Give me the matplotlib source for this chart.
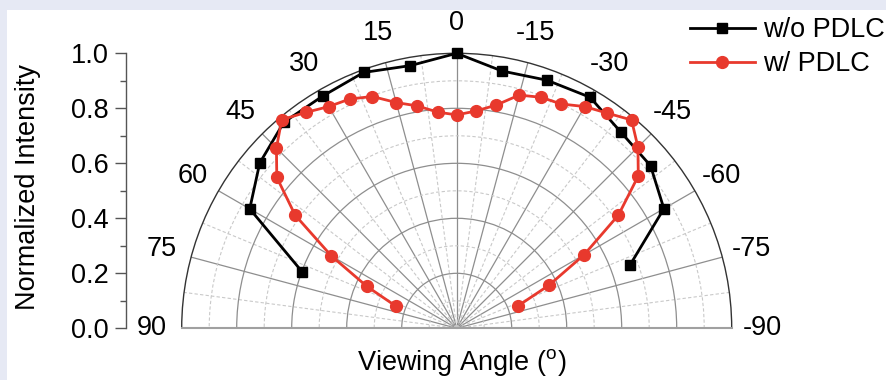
import numpy as np
import matplotlib
matplotlib.use("Agg")
import matplotlib.pyplot as plt
from matplotlib.patches import Rectangle

plt.rcParams['font.family'] = ['Liberation Sans', 'DejaVu Sans']
plt.rcParams['mathtext.fontset'] = 'custom'
plt.rcParams['mathtext.rm'] = 'Liberation Sans'

# ---- data ----
angles_wo = [-70, -60, -50, -40, -30, -20, -10, 0, 10, 20, 30, 40, 50, 60, 70]
intensity_wo = [0.67, 0.87, 0.92, 0.93, 0.97, 0.96, 0.95, 1.0,
                0.97, 0.99, 0.975, 0.978, 0.935, 0.869, 0.597]

angles_w = [-70, -65, -60, -55, -50, -45, -40, -35, -30, -25, -20, -15, -10, -5, 0,
            5, 10, 15, 20, 25, 30, 35, 40, 45, 50, 55, 60, 65, 70]
intensity_w = [0.236, 0.37, 0.535, 0.718, 0.862, 0.932, 0.989, 0.955, 0.931, 0.90,
               0.894, 0.878, 0.824, 0.793, 0.776, 0.789, 0.821, 0.85, 0.897, 0.92,
               0.931, 0.958, 0.99, 0.927, 0.854, 0.717, 0.526, 0.36, 0.235]

theta_major = [-90, -75, -60, -45, -30, -15, 0, 15, 30, 45, 60, 75, 90]
theta_labels = ['-90', '-75', '-60', '-45', '-30', '-15', '0', '15', '30', '45', '60', '75', '90']
theta_minor = [-82.5, -67.5, -52.5, -37.5, -22.5, -7.5, 7.5, 22.5, 37.5, 52.5, 67.5, 82.5]
r_major = [0.2, 0.4, 0.6, 0.8]
r_minor = [0.1, 0.3, 0.5, 0.7, 0.9]
y_ticks = [0.0, 0.2, 0.4, 0.6, 0.8, 1.0]
y_labels = ['0.0', '0.2', '0.4', '0.6', '0.8', '1.0']
y_minor = [0.1, 0.3, 0.5, 0.7, 0.9]

series_names = ['w/o PDLC', 'w/ PDLC']
red = '#e8392d'
FS = 19.5

W, H = 887, 380
fig = plt.figure(figsize=(W / 100, H / 100), dpi=100)
fig.patch.set_facecolor('#e6e9f4')
fig.add_artist(Rectangle((7 / W, 0), 1 - 7 / W, (H - 10) / H, transform=fig.transFigure,
                         facecolor='white', edgecolor='none', zorder=-10))

# polar axes: half-disk center (456.7, 328.3) px, R = 275 px
# polar axes keep a square box; the half disk sits centred in it
cx, cy, R = 456.7, 328.3, 275.0
S = 2 * R
box_cy = cy - R / 2          # from top
left = (cx - R) / W
bottom = (H - (box_cy + S / 2)) / H
ax = fig.add_axes([left, bottom, S / W, S / H], projection='polar')
ax.set_theta_zero_location('N')
ax.set_theta_direction(1)
ax.set_thetamin(-90)
ax.set_thetamax(90)
ax.set_ylim(0, 1)
ax.set_facecolor('white')
ax.set_axisbelow(True)

ax.set_xticks(np.deg2rad(theta_major))
ax.set_xticklabels([''] * len(theta_major))
ax.set_xticks(np.deg2rad(theta_minor), minor=True)
ax.set_yticks(r_major)
ax.set_yticklabels([])
ax.set_yticks(r_minor, minor=True)
ax.tick_params(axis='y', which='both', length=0)
ax.tick_params(axis='x', which='major', direction='in', length=7, width=1.0, color='#333333')
ax.tick_params(axis='x', which='minor', direction='in', length=4, width=1.0, color='#333333')

ax.xaxis.grid(True, which='major', color='#8e8e8e', lw=0.9, ls='-')
ax.xaxis.grid(True, which='minor', color='#c9c9c9', lw=0.8, ls=(0, (3, 2)))
ax.yaxis.grid(True, which='major', color='#8e8e8e', lw=0.9, ls='-')
ax.yaxis.grid(True, which='minor', color='#c9c9c9', lw=0.8, ls=(0, (3, 2)))

ax.spines['polar'].set_color('#333333')
ax.spines['polar'].set_linewidth(1.0)
for s in ('start', 'end'):
    ax.spines[s].set_color('#a0a0a0')
    ax.spines[s].set_linewidth(1.5)

for t, lab in zip(theta_major, theta_labels):
    ax.text(np.deg2rad(t), 1.11, lab, ha='center', va='center', fontsize=FS,
            clip_on=False)

l1, = ax.plot(np.deg2rad(angles_wo), intensity_wo, color='black', lw=2.0,
              marker='s', ms=7.5, clip_on=False, zorder=3)
l2, = ax.plot(np.deg2rad(angles_w), intensity_w, color=red, lw=2.0,
              marker='o', ms=8.5, clip_on=False, zorder=4)

# left cartesian intensity axis
axy = fig.add_axes([125.7 / W, (H - cy) / H, 0.01, R / H])
axy.set_ylim(0, 1)
axy.set_xlim(0, 1)
for s in ('top', 'right', 'bottom'):
    axy.spines[s].set_visible(False)
axy.patch.set_alpha(0)
axy.spines['left'].set_color('#555555')
axy.spines['left'].set_linewidth(1.0)
axy.set_xticks([])
axy.set_yticks(y_ticks)
axy.set_yticklabels(y_labels)
axy.set_yticks(y_minor, minor=True)
axy.tick_params(axis='y', which='major', direction='out', length=8, width=1.0,
                color='#555555', labelsize=FS, pad=4)
axy.tick_params(axis='y', which='minor', direction='out', length=4, width=1.0,
                color='#555555')

fig.text(28 / W, 0.508, 'Normalized Intensity', rotation=90, ha='center', va='center',
         fontsize=FS)
fig.text(462 / W, 10 / H, r'Viewing Angle ($^{\mathrm{o}}$)', ha='center', va='baseline',
         fontsize=FS)

fig.legend([l1, l2], series_names, loc='upper left', bbox_to_anchor=(690 / W, 1 - 17 / H),
           frameon=False, fontsize=FS, handlelength=2.4, handletextpad=0.3,
           borderpad=0, borderaxespad=0, labelspacing=0.3)

fig.savefig('out.png', dpi=100, facecolor=fig.get_facecolor())
